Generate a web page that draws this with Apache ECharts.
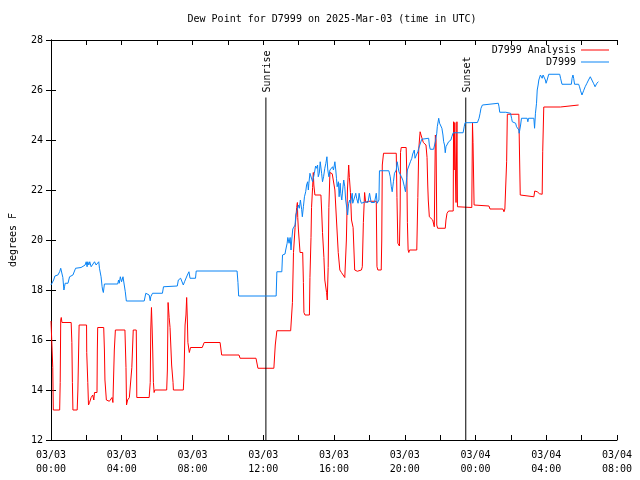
<!DOCTYPE html>
<html><head><meta charset="utf-8">
<script src="https://cdn.jsdelivr.net/npm/echarts@6/dist/echarts.min.js"></script>
<style>html,body{margin:0;padding:0;background:#fff}#c{width:640px;height:480px}</style>
</head><body><div id="c"></div>
<script>
// ---- data (hours since 2025-03-03 00:00 UTC, dew point in degrees F) ----
const seriesNames = ['D7999 Analysis', 'D7999'];
const redHours = [0,0.08,0.10,0.13,0.49,0.52,0.55,0.58,0.62,1.14,1.18,1.21,1.24,1.48,1.52,1.59,2.01,2.02,2.08,2.12,
2.18,2.27,2.36,2.42,2.46,2.60,2.62,2.64,2.98,3.02,3.05,3.13,3.30,3.39,3.45,3.50,3.58,3.64,4.18,4.24,
4.27,4.33,4.43,4.52,4.57,4.65,4.82,4.84,4.85,5.55,5.61,5.64,5.68,5.72,5.75,5.79,5.83,5.87,6.54,6.58,
6.62,6.68,6.73,6.82,6.90,6.92,7.48,7.52,7.58,7.63,7.67,7.71,7.74,7.82,7.89,8.55,8.66,9.56,9.65,10.63,
10.69,11.59,11.70,12.60,12.68,12.77,13.55,13.65,13.71,13.80,13.89,13.93,13.95,13.99,14.08,14.23,14.27,14.30,14.36,14.61,
14.64,14.70,14.73,14.79,14.83,14.86,14.92,15.26,15.30,15.35,15.43,15.48,15.58,15.62,15.67,15.71,15.77,15.90,16.01,16.05,
16.14,16.24,16.33,16.42,16.61,16.65,16.70,16.76,16.83,16.87,16.93,16.99,17.08,17.17,17.32,17.55,17.60,17.66,17.73,17.79,
17.92,18.39,18.43,18.48,18.67,18.70,18.73,18.80,19.52,19.56,19.61,19.70,19.74,19.76,19.80,20.08,20.12,20.15,20.19,20.23,
20.27,20.68,20.74,20.79,20.83,20.87,20.92,21.05,21.20,21.26,21.30,21.33,21.39,21.58,21.67,21.73,21.77,21.81,21.86,22.29,
22.33,22.39,22.48,22.74,22.76,22.79,22.83,22.87,22.90,22.95,22.98,23.79,23.83,23.86,23.92,24.76,24.82,25.55,25.61,25.66,
25.76,25.80,26.45,26.49,26.53,26.55,27.30,27.35,27.49,27.62,27.77,27.80,27.86,28.80,28.89,29.83];
const redValues = [16.76,16.76,14.9,13.2,13.2,14.3,16.8,16.9,16.7,16.7,15.9,14.3,13.2,13.2,14.0,16.6,16.6,15.5,14.3,13.4,
13.5,13.7,13.8,13.6,13.9,13.9,15.6,16.5,16.5,15.6,14.4,13.6,13.55,13.6,13.7,13.5,15.6,16.4,16.4,14.9,
13.4,13.6,13.7,13.7,14.9,16.4,16.4,15.0,13.7,13.7,14.3,16.4,17.3,16.4,15.6,14.3,13.9,14.0,14.0,14.8,
17.5,16.9,16.5,15.0,14.3,14.0,14.0,14.6,16.6,17.0,17.7,16.8,15.9,15.5,15.7,15.7,15.9,15.9,15.4,15.4,
15.27,15.27,14.87,14.87,15.8,16.37,16.37,17.5,19.5,20.5,21.3,21.5,20.9,20.4,19.5,19.5,18.3,17.1,17.0,17.0,
18.5,20.1,21.3,22.1,22.7,22.2,21.8,21.8,21.2,20.3,19.3,18.4,17.9,17.6,18.9,21.3,22.7,22.65,22.7,22.0,
20.8,19.5,18.8,18.7,18.5,18.45,20.0,22.0,23.0,22.5,21.9,20.8,20.5,18.8,18.75,18.8,18.93,20.7,21.9,21.5,
21.55,21.55,18.93,18.8,18.8,20.0,23.0,23.47,23.47,21.7,19.87,19.76,21.2,23.5,23.7,23.7,22.5,20.7,19.6,19.5,
19.6,19.6,21.7,23.6,24.0,24.33,24.2,23.9,23.8,23.3,22.2,21.6,20.93,20.8,20.53,24.2,24.0,20.6,20.47,20.47,
20.8,21.07,21.16,21.16,24.73,22.8,24.7,22.4,21.5,24.73,21.33,21.3,24.67,23.9,21.4,21.36,21.24,21.24,21.13,21.24,
23.13,25.03,25.03,23.4,21.8,21.73,21.73,21.96,21.93,21.85,21.83,23.53,25.32,25.32,25.4,25.4];
const blueHours = [0,0.11,0.15,0.21,0.22,0.39,0.49,0.55,0.62,0.67,0.73,0.77,0.80,0.96,1.05,1.24,1.33,1.39,1.45,1.70,
1.80,1.93,1.99,2.04,2.08,2.14,2.19,2.23,2.27,2.36,2.46,2.55,2.64,2.70,2.74,2.77,2.83,2.89,2.92,2.96,
3.02,3.77,3.82,3.86,3.92,3.99,4.07,4.15,4.20,4.26,5.27,5.36,5.46,5.55,5.61,5.64,5.74,6.30,6.36,6.47,
7.14,7.20,7.33,7.42,7.48,7.55,7.63,7.71,7.80,7.86,8.17,8.21,10.52,10.57,10.61,12.73,12.77,13.05,13.09,13.23,
13.27,13.35,13.39,13.46,13.52,13.57,13.61,13.67,13.74,13.80,13.84,13.89,13.95,13.99,14.04,14.10,14.17,14.21,14.27,14.33,
14.40,14.45,14.51,14.55,14.58,14.64,14.73,14.79,14.83,14.89,14.96,15.02,15.07,15.11,15.17,15.22,15.30,15.35,15.41,15.48,
15.54,15.60,15.65,15.71,15.77,15.86,15.92,15.97,16.05,16.10,16.14,16.18,16.25,16.29,16.35,16.38,16.44,16.49,16.55,16.61,
16.66,16.74,16.77,16.83,16.89,16.93,17.03,17.06,17.12,17.17,17.23,17.28,17.36,17.42,17.48,17.55,17.77,17.82,17.92,18.01,
18.05,18.10,18.29,18.39,18.44,18.54,18.57,19.10,19.18,19.24,19.29,19.36,19.42,19.52,19.57,19.63,19.67,19.74,19.81,19.89,
19.98,20.04,20.10,20.15,20.26,20.32,20.40,20.45,20.54,20.58,20.64,20.74,20.79,20.88,20.96,21.35,21.39,21.44,21.63,21.73,
21.81,21.84,21.88,21.92,21.97,22.03,22.10,22.16,22.20,22.25,22.29,22.33,22.39,22.42,22.48,22.51,22.55,22.61,22.66,22.74,
23.30,23.36,23.41,24.11,24.20,24.26,24.31,24.39,24.45,25.29,25.33,25.37,25.71,25.75,25.80,25.98,26.04,26.08,26.27,26.32,
26.42,26.45,26.47,26.51,26.55,26.60,26.92,26.96,27.00,27.30,27.34,27.39,27.45,27.49,27.54,27.58,27.67,27.77,27.82,27.90,
27.95,27.99,28.05,28.14,28.76,28.81,28.89,29.42,29.46,29.51,29.55,29.60,29.83,29.88,29.94,30.02,30.11,30.20,30.30,30.39,
30.49,30.58,30.67,30.76,30.82,30.86,30.95];
const blueValues = [18.2,18.23,18.4,18.4,18.56,18.6,18.73,18.87,18.9,18.5,18.0,18.15,18.27,18.27,18.53,18.6,18.67,18.87,18.9,18.9,
18.93,19.0,19.13,18.93,19.13,19.0,19.13,19.2,18.93,18.93,19.13,19.0,18.93,19.13,18.87,18.87,18.53,18.13,18.0,17.9,
18.24,18.24,18.4,18.27,18.53,18.33,18.53,18.53,17.93,17.56,17.56,17.87,17.84,17.8,17.57,17.73,17.87,17.87,18.13,18.16,
18.16,18.4,18.47,18.4,18.2,18.33,18.4,18.6,18.73,18.47,18.47,18.76,18.76,18.3,17.76,17.76,18.73,18.73,19.4,19.44,
19.6,19.87,20.1,19.87,20.1,19.6,20.0,20.44,20.4,20.6,21.0,21.13,21.2,21.4,21.27,21.6,21.23,20.93,21.33,21.73,
21.93,22.2,22.33,22.0,22.27,22.67,22.67,22.33,22.27,22.67,22.96,22.87,23.0,22.53,22.67,23.13,22.67,22.33,22.53,22.87,
23.07,23.33,22.8,22.53,22.8,22.73,22.93,22.8,23.13,22.8,22.47,22.13,22.33,21.73,22.27,21.87,21.6,22.0,22.4,22.13,
21.6,21.2,21.0,21.47,21.6,21.47,21.87,21.47,21.53,21.47,21.87,21.67,21.47,21.87,21.6,21.47,21.53,21.47,21.5,21.87,
21.8,21.5,21.5,21.87,21.47,21.6,22.77,22.77,22.53,22.13,21.93,22.33,22.67,22.8,23.13,23.07,22.73,22.8,22.53,22.4,
22.13,21.93,22.4,22.8,22.8,23.13,23.27,23.44,23.6,23.27,23.23,23.53,23.67,23.67,24.03,24.07,23.8,23.63,23.63,23.93,
24.27,24.53,24.6,24.87,24.67,24.6,24.47,24.2,23.93,23.8,23.49,23.73,23.67,23.8,23.93,23.87,23.87,24.0,24.13,24.29,
24.29,24.53,24.69,24.7,24.87,25.07,25.27,25.4,25.47,25.47,25.33,25.11,25.11,25.03,25.11,25.07,24.87,24.73,24.67,24.53,
24.53,24.4,24.27,24.33,24.6,24.87,24.87,24.73,24.87,24.87,24.47,25.07,25.47,26.0,26.2,26.4,26.6,26.47,26.6,26.6,
26.4,26.27,26.4,26.63,26.63,26.47,26.23,26.23,26.47,26.6,26.47,26.23,26.23,26.13,25.97,25.8,25.97,26.13,26.27,26.4,
26.53,26.4,26.27,26.13,26.2,26.27,26.33];
const eventNames = ['Sunrise', 'Sunset'];
const eventHours = [12.15, 23.45];
const eventLineRange = [12, 25.7];
const eventLabelBase = 25.9;
const xTickLabels = ['03/03\n00:00','03/03\n04:00','03/03\n08:00','03/03\n12:00','03/03\n16:00',
  '03/03\n20:00','03/04\n00:00','03/04\n04:00','03/04\n08:00'];
const titleText = 'Dew Point for D7999 on 2025-Mar-03 (time in UTC)';
const yAxisName = 'degrees F';
const seriesColors = ['#ff0000', '#0a84f5'];

// ---- chart ----
const FONT = 'DejaVu Sans Mono';
const zip = (a, b) => a.map((v, i) => [v, b[i]]);
const chart = echarts.init(document.getElementById('c'), null, {renderer: 'canvas'});
const txt = {fontFamily: FONT, fontSize: 10, color: '#000'};
const axisLine = {show: true, lineStyle: {color: '#000', width: 1}};
const tick = {show: true, inside: true, length: 5, lineStyle: {color: '#000', width: 1}};
const legendBase = {orient: 'vertical', align: 'right', right: 31, itemWidth: 28, itemHeight: 1,
  padding: 0, itemGap: 0, textStyle: Object.assign({}, txt, {lineHeight: 12}), icon: 'rect'};

const eventSeries = eventHours.map(h => ({
  type: 'line', name: 'evt' + h, data: eventLineRange.map(v => [h, v]),
  symbol: 'none', silent: true, animation: false,
  lineStyle: {color: '#000', width: 1}, itemStyle: {color: '#000'}
}));

chart.setOption({
  animation: false,
  backgroundColor: '#fff',
  title: {text: titleText, left: 332, top: 14, textAlign: 'center', padding: 0,
    textStyle: {fontFamily: FONT, fontSize: 10, fontWeight: 'normal', color: '#000'}},
  legend: [
    Object.assign({}, legendBase, {data: [seriesNames[0]], top: 44}),
    Object.assign({}, legendBase, {data: [seriesNames[1]], top: 56})
  ],
  grid: {left: 48, right: 23, top: 40, bottom: 40, containLabel: false},
  xAxis: [
    {type: 'value', min: 0, max: 32, interval: 2, position: 'bottom',
      axisLine: axisLine, axisTick: tick, splitLine: {show: false},
      axisLabel: Object.assign({}, txt, {margin: 8, lineHeight: 14,
        formatter: v => (v % 4 === 0 ? xTickLabels[v / 4] : '')})},
    {type: 'value', min: 0, max: 32, interval: 2, position: 'top',
      axisLine: axisLine, axisTick: tick, splitLine: {show: false}, axisLabel: {show: false}}
  ],
  yAxis: [
    {type: 'value', min: 12, max: 28, interval: 2, position: 'left',
      name: yAxisName, nameLocation: 'middle', nameGap: 33, nameTextStyle: txt,
      axisLine: axisLine, axisTick: tick, splitLine: {show: false},
      axisLabel: Object.assign({}, txt, {margin: 8})},
    {type: 'value', min: 12, max: 28, interval: 2, position: 'right',
      axisLine: axisLine, axisTick: tick, splitLine: {show: false}, axisLabel: {show: false}}
  ],
  series: [
    {type: 'line', name: seriesNames[0], data: zip(redHours, redValues), symbol: 'none',
      lineStyle: {color: seriesColors[0], width: 1}, itemStyle: {color: seriesColors[0]}},
    ...eventSeries,
    {type: 'line', name: seriesNames[1], data: zip(blueHours, blueValues), symbol: 'none',
      lineStyle: {color: seriesColors[1], width: 1}, itemStyle: {color: seriesColors[1]}}
  ]
});

const pts = eventHours.map(h => chart.convertToPixel({gridIndex: 0}, [h, eventLabelBase]));
chart.setOption({
  graphic: eventNames.map((n, i) => ({
    type: 'text', x: Math.round(pts[i][0]) + 1, y: pts[i][1], rotation: Math.PI / 2, silent: true,
    style: {text: n, font: '10px "' + FONT + '"', fill: '#000', align: 'left', verticalAlign: 'middle'}
  }))
});
</script>
</body></html>
